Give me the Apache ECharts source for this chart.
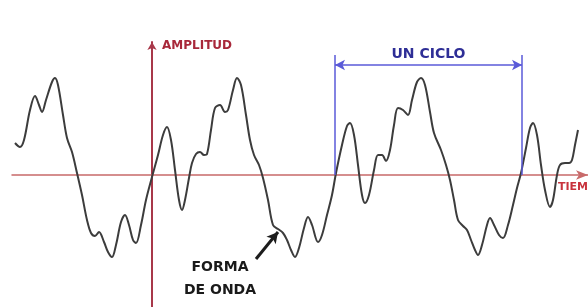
<!DOCTYPE html>
<html>
<head>
<meta charset="utf-8">
<script src="https://cdn.jsdelivr.net/npm/echarts@6/dist/echarts.min.js"></script>
<style>
  html, body { margin: 0; padding: 0; background: #fff; }
  #chart { width: 588px; height: 307px; }
</style>
</head>
<body>
<div id="chart"></div>
<script>
// waveform samples: time (origin on the amplitude axis) and amplitude
const waveTime = [
  -137, -132, -128, -122, -117, -113, -110, -106, -100, -97, -94, -89, -85, -80, -75, -70,
  -65, -61, -57, -53, -48, -44, -40, -36, -31, -27, -23, -19, -16, -11, -6, 0,
  6, 11, 15, 19, 23, 27, 30, 33, 37, 40, 44, 48, 52, 55, 59, 63,
  68, 73, 76, 81, 85, 89, 94, 98, 102, 107, 111, 116, 121, 126, 131, 135,
  139, 143, 147, 152, 156, 160, 166, 170, 175, 180, 184, 190, 195, 198, 202, 206,
  210, 213, 217, 222, 226, 230, 234, 238, 242, 246, 251, 256, 260, 265, 269, 273,
  278, 282, 289, 294, 298, 302, 306, 311, 315, 319, 323, 326, 330, 335, 338, 342,
  347, 351, 356, 361, 365, 369, 374, 378, 381, 385, 389, 393, 398, 401, 405, 408,
  413, 417, 420, 423, 426
];
const waveAmp = [
  32, 28, 35, 65, 79, 70, 63, 75, 93, 97, 90, 60, 37, 23, 2, -20,
  -45, -58, -61, -57, -67, -77, -82, -70, -47, -40, -50, -65, -68, -50, -25, -2,
  20, 40, 48, 35, 5, -25, -35, -25, -3, 12, 21, 23, 20, 21, 45, 67,
  70, 63, 65, 85, 97, 90, 60, 35, 20, 10, -3, -25, -50, -54, -58, -65,
  -75, -82, -73, -53, -42, -50, -67, -60, -40, -20, 2, 30, 49, 52, 40, 10,
  -20, -28, -20, 5, 20, 20, 14, 25, 50, 67, 65, 60, 75, 93, 97, 90,
  63, 42, 25, 10, -5, -25, -45, -51, -55, -65, -75, -80, -70, -50, -43, -50,
  -60, -63, -50, -30, -13, 2, 27, 47, 52, 40, 10, -15, -32, -25, 0, 10,
  12, 12, 15, 30, 45
];
// one cycle, marked by the blue bracket
const cycleStart = 183;
const cycleEnd = 370;
const bracketTop = 120;
const bracketArrowY = 110;
// pointer to the waveform
const pointerFrom = [104, -84];
const pointerTo = [126, -57];
const pointerLabelAt = [68, -104];

const waveData = waveTime.map((t, i) => [t, waveAmp[i]]);

const chart = echarts.init(document.getElementById('chart'));
chart.setOption({
  animation: false,
  backgroundColor: '#ffffff',
  grid: { left: 12, right: 0, top: 42, bottom: 0, outerBoundsMode: 'none' },
  xAxis: {
    type: 'value',
    min: -140,
    max: 436,
    name: 'TIEMPO',
    nameLocation: 'end',
    nameGap: -30,
    nameTextStyle: {
      color: '#c8333d',
      fontFamily: 'DejaVu Sans',
      fontWeight: 'bold',
      fontSize: 11,
      align: 'left',
      verticalAlign: 'top',
      padding: [7, 0, 0, 0]
    },
    axisLine: {
      onZero: true,
      symbol: ['none', 'arrow'],
      symbolSize: [7, 12],
      lineStyle: { color: '#c86a6a', width: 1.5 }
    },
    axisTick: { show: false },
    axisLabel: { show: false },
    splitLine: { show: false }
  },
  yAxis: {
    type: 'value',
    min: -132,
    max: 133,
    name: 'AMPLITUD',
    nameLocation: 'end',
    nameGap: -4,
    nameTextStyle: {
      color: '#a8283a',
      fontFamily: 'DejaVu Sans',
      fontWeight: 'bold',
      fontSize: 12,
      align: 'left',
      verticalAlign: 'middle',
      padding: [0, 0, 0, 10]
    },
    axisLine: {
      onZero: true,
      symbol: ['none', 'arrow'],
      symbolSize: [7, 8],
      lineStyle: { color: '#a8384a', width: 2 }
    },
    axisTick: { show: false },
    axisLabel: { show: false },
    splitLine: { show: false }
  },
  series: [
    {
      type: 'line',
      data: waveData,
      smooth: 0.35,
      showSymbol: false,
      lineStyle: { color: '#3c3c3c', width: 2 },
      markLine: {
        silent: true,
        symbol: ['none', 'arrow'],
        symbolSize: [9, 11],
        label: { show: false },
        lineStyle: { color: '#1c1c1c', width: 3, type: 'solid' },
        data: [[{ coord: pointerFrom }, { coord: pointerTo }]]
      },
      markPoint: {
        silent: true,
        symbol: 'circle',
        symbolSize: 0,
        label: {
          show: true,
          position: 'inside',
          formatter: 'FORMA\nDE ONDA',
          color: '#1a1a1a',
          fontFamily: 'DejaVu Sans',
          fontWeight: 'bold',
          fontSize: 14,
          lineHeight: 23,
          align: 'center'
        },
        data: [{ coord: pointerLabelAt }]
      }
    },
    {
      type: 'line',
      data: [],
      markLine: {
        silent: true,
        symbol: ['none', 'none'],
        lineStyle: { color: '#5a5ad8', width: 1.5, type: 'solid' },
        label: { show: false },
        data: [
          [{ coord: [cycleStart, 0] }, { coord: [cycleStart, bracketTop] }],
          [{ coord: [cycleEnd, 0] }, { coord: [cycleEnd, bracketTop] }],
          [
            { coord: [cycleStart, bracketArrowY], symbol: 'arrow' },
            {
              coord: [cycleEnd, bracketArrowY],
              symbol: 'arrow',
              label: {
                show: true,
                position: 'middle',
                formatter: 'UN CICLO',
                color: '#2e2e96',
                fontFamily: 'DejaVu Sans',
                fontWeight: 'bold',
                fontSize: 14,
                distance: 4
              }
            }
          ]
        ],
        symbolSize: [8, 10]
      }
    }
  ]
});
</script>
</body>
</html>
